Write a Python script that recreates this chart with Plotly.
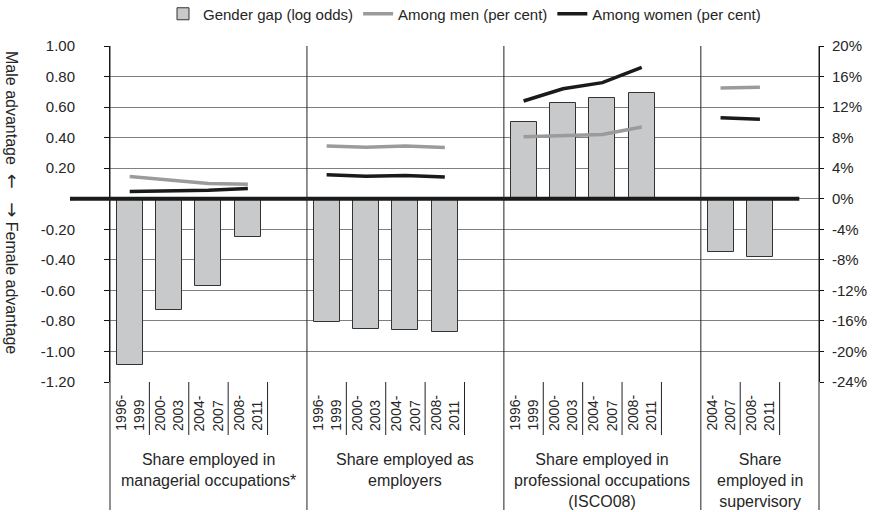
import plotly.graph_objects as go

# ---------------- data ----------------
group_labels = [
    "Share employed in<br>managerial occupations*",
    "Share employed as<br>employers",
    "Share employed in<br>professional occupations<br>(ISCO08)",
    "Share<br>employed in<br>supervisory",
]
periods_managerial = ["1996-<br>1999", "2000-<br>2003", "2004-<br>2007", "2008-<br>2011"]
periods_employers = ["1996-<br>1999", "2000-<br>2003", "2004-<br>2007", "2008-<br>2011"]
periods_professional = ["1996-<br>1999", "2000-<br>2003", "2004-<br>2007", "2008-<br>2011"]
periods_supervisory = ["2004-<br>2007", "2008-<br>2011"]

gap_managerial = [-1.09, -0.73, -0.57, -0.25]
gap_employers = [-0.81, -0.85, -0.86, -0.87]
gap_professional = [0.50, 0.63, 0.66, 0.69]
gap_supervisory = [-0.35, -0.38]

men_managerial = [2.9, 2.4, 2.0, 1.9]
men_employers = [6.9, 6.75, 6.9, 6.7]
men_professional = [8.1, 8.2, 8.4, 9.4]
men_supervisory = [14.5, 14.6]

women_managerial = [0.95, 1.05, 1.1, 1.35]
women_employers = [3.15, 2.95, 3.05, 2.85]
women_professional = [12.8, 14.4, 15.2, 17.2]
women_supervisory = [10.6, 10.4]

left_ticks = [1.0, 0.8, 0.6, 0.4, 0.2, 0.0, -0.2, -0.4, -0.6, -0.8, -1.0, -1.2]
right_ticks = [20, 16, 12, 8, 4, 0, -4, -8, -12, -16, -20, -24]

# ---------------- assemble ----------------
group_periods = [periods_managerial, periods_employers, periods_professional, periods_supervisory]
gaps = [gap_managerial, gap_employers, gap_professional, gap_supervisory]
men = [men_managerial, men_employers, men_professional, men_supervisory]
women = [women_managerial, women_employers, women_professional, women_supervisory]

slots = [len(p) + 1 for p in group_periods]
n_slots = sum(slots)
starts = [sum(slots[:i]) for i in range(len(slots))]

bar_x, bar_y = [], []
line_x, men_y, women_y = [], [], []
for g in range(len(group_periods)):
    for i, _ in enumerate(group_periods[g]):
        x = starts[g] + i + 0.5
        bar_x.append(x)
        bar_y.append(gaps[g][i])
        line_x.append(x)
        men_y.append(men[g][i])
        women_y.append(women[g][i])
    line_x.append(None)
    men_y.append(None)
    women_y.append(None)

FONT = "Liberation Sans, Arial, sans-serif"
TXT = "#262626"

fig = go.Figure()
fig.add_trace(go.Bar(
    x=bar_x, y=bar_y, width=0.66, name="Gender gap (log odds)",
    marker=dict(color="#c8c9cb", line=dict(color="#333333", width=1)),
))
fig.add_trace(go.Scatter(
    x=line_x, y=men_y, mode="lines", name="Among men (per cent)", yaxis="y2",
    line=dict(color="#9b9b9b", width=3.5), connectgaps=False,
))
fig.add_trace(go.Scatter(
    x=line_x, y=women_y, mode="lines", name="Among women (per cent)", yaxis="y2",
    line=dict(color="#1a1a1a", width=3.5), connectgaps=False,
))

ymin, ymax = min(left_ticks), max(left_ticks)
zero_paper = (0 - ymin) / (ymax - ymin)
plot_h = 512 - 46 - 130
plot_w = 872 - 110 - 53

shapes = []
shapes.append(dict(type="line", xref="paper", yref="paper",
                   x0=-40 / plot_w, x1=(n_slots - 0.5) / n_slots,
                   y0=zero_paper, y1=zero_paper,
                   line=dict(color="#1a1a1a", width=4), layer="above"))
for s in starts + [n_slots]:
    shapes.append(dict(type="line", xref="paper", yref="paper",
                       x0=s / n_slots, x1=s / n_slots, y0=1, y1=-128 / plot_h,
                       line=dict(color="#222222", width=1)))
for g in range(len(group_periods)):
    for k in range(1, slots[g]):
        s = starts[g] + k
        shapes.append(dict(type="line", xref="paper", yref="paper",
                           x0=s / n_slots, x1=s / n_slots, y0=0, y1=-53 / plot_h,
                           line=dict(color="#222222", width=1)))

annotations = []
for g in range(len(group_periods)):
    for i, p in enumerate(group_periods[g]):
        annotations.append(dict(
            xref="paper", yref="paper", x=(starts[g] + i + 0.5) / n_slots, y=-51 / plot_h,
            text=p, textangle=-90, showarrow=False, xanchor="center", yanchor="bottom",
            align="left", font=dict(family=FONT, size=14, color=TXT)))
    annotations.append(dict(
        xref="paper", yref="paper", x=(starts[g] + slots[g] / 2) / n_slots, y=-67 / plot_h,
        text=group_labels[g], showarrow=False, xanchor="center", yanchor="top",
        align="center", font=dict(family=FONT, size=16, color=TXT)))

arrow_style = "font-family:'DejaVu Sans';font-size:18px"
annotations.append(dict(
    xref="paper", yref="paper", x=-97 / plot_w, y=(382 - 202) / plot_h,
    text=("Male advantage  <span style=\"" + arrow_style + "\">\u2190</span>   "
          "<span style=\"" + arrow_style + "\">\u2192</span> Female advantage"),
    textangle=90, showarrow=False,
    xanchor="center", yanchor="middle", font=dict(family=FONT, size=16, color=TXT)))

fig.update_layout(
    width=872, height=512,
    margin=dict(l=110, r=53, t=46, b=130, autoexpand=False),
    paper_bgcolor="white", plot_bgcolor="white",
    font=dict(family=FONT, size=15, color=TXT),
    bargap=0,
    showlegend=True,
    legend=dict(orientation="h", x=0.5, xanchor="center", y=1 + 32 / plot_h, yanchor="middle",
                font=dict(family=FONT, size=15, color=TXT), traceorder="normal",
                itemwidth=30, bgcolor="rgba(0,0,0,0)"),
    xaxis=dict(range=[0, n_slots], showgrid=False, zeroline=False, showticklabels=False,
               ticks="", showline=False, fixedrange=True),
    yaxis=dict(range=[ymin, ymax], tickvals=left_ticks,
               ticktext=["-" if v == 0 else f"{v:.2f}" for v in left_ticks],
               showgrid=True, gridcolor="#808080", gridwidth=1, zeroline=False,
               showline=True, linecolor="#111111", linewidth=1,
               ticks="outside", ticklen=5, tickcolor="#111111",
               ticklabelstandoff=26, tickfont=dict(family=FONT, size=15, color=TXT)),
    yaxis2=dict(range=[min(right_ticks), max(right_ticks)], overlaying="y", side="right",
                tickvals=right_ticks, ticktext=[f"{v}%" for v in right_ticks],
                showgrid=False, zeroline=False, showline=True, linecolor="#111111", linewidth=1,
                ticks="outside", ticklen=4, tickcolor="#111111", ticklabelstandoff=5,
                tickfont=dict(family=FONT, size=15, color=TXT)),
    shapes=shapes,
    annotations=annotations,
)

fig.write_html("out.html", config={"displayModeBar": False},
               post_script="document.body.style.margin='0';document.body.style.overflow='hidden';")
